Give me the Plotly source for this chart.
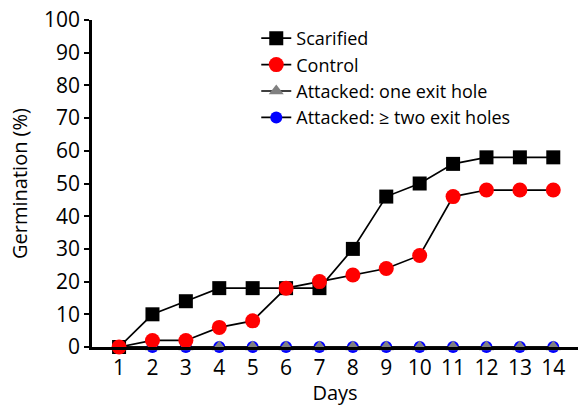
import plotly.graph_objects as go

days = list(range(1, 15))
scarified = [0, 10, 14, 18, 18, 18, 18, 30, 46, 50, 56, 58, 58, 58]
control = [0, 2, 2, 6, 8, 18, 20, 22, 24, 28, 46, 48, 48, 48]
attacked_one = [0] * 14
attacked_two = [0] * 14

FONT = "Open Sans"

fig = go.Figure()
line = dict(color="black", width=1.7)
fig.add_trace(go.Scatter(x=days, y=attacked_two, name="Attacked: ≥ two exit holes", mode="lines+markers",
                         line=line, marker=dict(symbol="circle", size=12, color="#0000ff"),
                         legendrank=4, cliponaxis=False))
fig.add_trace(go.Scatter(x=days, y=attacked_one, name="Attacked: one exit hole", mode="lines+markers",
                         line=line, marker=dict(symbol="triangle-up", size=13, color="#808080"),
                         legendrank=3, cliponaxis=False))
fig.add_trace(go.Scatter(x=days, y=scarified, name="Scarified", mode="lines+markers",
                         line=line, marker=dict(symbol="square", size=14, color="black"),
                         legendrank=1, cliponaxis=False))
fig.add_trace(go.Scatter(x=days, y=control, name="Control", mode="lines+markers",
                         line=line, marker=dict(symbol="circle", size=15, color="#ff0000"),
                         legendrank=2, cliponaxis=False))

fig.update_layout(
    width=580, height=406,
    margin=dict(l=92, r=2, t=20, b=59),
    plot_bgcolor="white", paper_bgcolor="white",
    font=dict(family=FONT, color="black", size=18),
    legend=dict(x=0.338, y=1.0, xanchor="left", yanchor="top", bgcolor="rgba(0,0,0,0)",
                font=dict(size=18, family=FONT), tracegroupgap=0, itemwidth=30),
    xaxis=dict(range=[0.19, 14.74], tickmode="array", tickvals=days, ticktext=[str(d) for d in days],
               showgrid=False, zeroline=False, showline=True, linecolor="black", linewidth=2.5,
               ticks="", tickfont=dict(size=21), automargin=False,
               title=dict(text="Days", font=dict(size=20), standoff=4)),
    yaxis=dict(range=[0, 100], tickvals=list(range(0, 101, 10)), showgrid=False, zeroline=False,
               showline=True, linecolor="black", linewidth=2.5, ticks="outside", ticklen=5, tickwidth=2,
               tickcolor="black", tickfont=dict(size=21), automargin=False,
               title=dict(text="Germination (%)", font=dict(size=20), standoff=12)),
)

fig.write_html("out.html", config={"displayModeBar": False},
               post_script="document.body.style.margin='0';")
